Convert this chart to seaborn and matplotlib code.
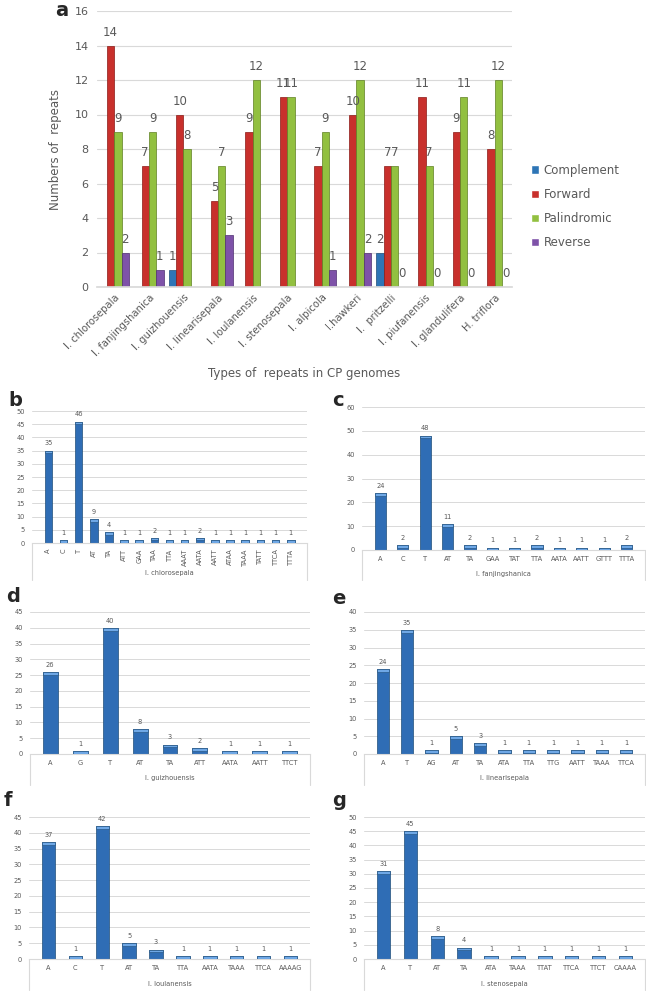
import numpy as np
import pandas as pd
import matplotlib
matplotlib.use("Agg")
import matplotlib.pyplot as plt
import seaborn as sns

# ---------------- data ----------------
species = ["I. chlorosepala", "I. fanjingshanica", "I. guizhouensis", "I. linearisepala",
           "I. loulanensis", "I. stenosepala", "I. alpicola", "I.hawkeri", "I.  pritzelli",
           "I. piufanensis", "I. glandulifera", "H. triflora"]
repeat_types = ["Complement", "Forward", "Palindromic", "Reverse"]
nan = np.nan
complement = [nan, nan, 1, nan, nan, nan, nan, nan, 2, nan, nan, nan]
forward = [14, 7, 10, 5, 9, 11, 7, 10, 7, 11, 9, 8]
palindromic = [9, 9, 8, 7, 12, 11, 9, 12, 7, 7, 11, 12]
reverse = [2, 1, nan, 3, nan, nan, 1, 2, 0, 0, 0, 0]

b_labels = ["A", "C", "T", "AT", "TA", "ATT", "GAA", "TAA", "TTA", "AAAT", "AATA", "AATT",
            "ATAA", "TAAA", "TATT", "TTCA", "TTTA"]
b_values = [35, 1, 46, 9, 4, 1, 1, 2, 1, 1, 2, 1, 1, 1, 1, 1, 1]
c_labels = ["A", "C", "T", "AT", "TA", "GAA", "TAT", "TTA", "AATA", "AATT", "GTTT", "TTTA"]
c_values = [24, 2, 48, 11, 2, 1, 1, 2, 1, 1, 1, 2]
d_labels = ["A", "G", "T", "AT", "TA", "ATT", "AATA", "AATT", "TTCT"]
d_values = [26, 1, 40, 8, 3, 2, 1, 1, 1]
e_labels = ["A", "T", "AG", "AT", "TA", "ATA", "TTA", "TTG", "AATT", "TAAA", "TTCA"]
e_values = [24, 35, 1, 5, 3, 1, 1, 1, 1, 1, 1]
f_labels = ["A", "C", "T", "AT", "TA", "TTA", "AATA", "TAAA", "TTCA", "AAAAG"]
f_values = [37, 1, 42, 5, 3, 1, 1, 1, 1, 1]
g_labels = ["A", "T", "AT", "TA", "ATA", "TAAA", "TTAT", "TTCA", "TTCT", "CAAAA"]
g_values = [31, 45, 8, 4, 1, 1, 1, 1, 1, 1]

# ---------------- style ----------------
sns.set_theme(style="white")
plt.rcParams["font.family"] = ["DejaVu Sans"]
GRAY = "#595959"
GRID = "#D9D9D9"
W, H = 646, 991
fig = plt.figure(figsize=(W / 100, H / 100), dpi=100)


def rect(l, t, r, b):
    return [l / W, 1 - b / H, (r - l) / W, (b - t) / H]


# ---------------- panel a ----------------
df = pd.DataFrame({
    "species": np.repeat(species, len(repeat_types)),
    "type": repeat_types * len(species),
    "value": np.column_stack([complement, forward, palindromic, reverse]).ravel(),
})
palette = {"Complement": "#2E75B6", "Forward": "#C8302C",
           "Palindromic": "#92C040", "Reverse": "#7E52A8"}
edges = {"Complement": "#1F4E79", "Forward": "#8B1A16",
         "Palindromic": "#5E7F22", "Reverse": "#4F2F70"}

axa = fig.add_axes(rect(97, 11, 512, 287))
sns.barplot(data=df, x="species", y="value", hue="type", hue_order=repeat_types,
            order=species, palette=palette, width=0.85, ax=axa, legend=True,
            saturation=1)
for cont, t in zip(axa.containers, repeat_types):
    for bar in cont:
        bar.set_edgecolor(edges[t])
        bar.set_linewidth(0.5)
    labs = [("" if np.isnan(b.get_height()) else f"{int(round(b.get_height()))}") for b in cont]
    axa.bar_label(cont, labels=labs, padding=5, fontsize=8.5, color=GRAY)
axa.set_ylim(0, 16)
axa.set_yticks(range(0, 17, 2))
axa.yaxis.grid(True, color=GRID, linewidth=0.8)
axa.set_axisbelow(True)
for s in ["top", "right", "left"]:
    axa.spines[s].set_visible(False)
axa.spines["bottom"].set_color(GRID)
axa.tick_params(axis="both", length=0, colors=GRAY)
axa.tick_params(axis="y", pad=6, labelsize=8)
axa.tick_params(axis="x", pad=4, labelsize=7.2)
plt.setp(axa.get_xticklabels(), rotation=45, ha="right", rotation_mode="anchor")
axa.set_xlabel("")
axa.set_ylabel("Numbers of  repeats", color=GRAY, fontsize=8.5)
axa.yaxis.set_label_coords(-0.085, 0.5)
handles, labels = axa.get_legend_handles_labels()
axa.get_legend().remove()
fig.legend(handles, labels, loc="upper left", bbox_to_anchor=(520 / W, 1 - 153 / H),
           frameon=False, fontsize=8.5, labelcolor=GRAY, handlelength=0.7,
           handleheight=0.7, handletextpad=0.4, labelspacing=0.95)
fig.text(304 / W, 1 - 373 / H, "Types of  repeats in CP genomes", ha="center",
         va="center", fontsize=8.5, color=GRAY)
fig.text(55 / W, 1 - 11 / H, "a", fontsize=14, fontweight="bold", ha="left", va="center")

# ---------------- panels b-g ----------------
panels = [
    ("b", b_labels, b_values, "I. chlorosepala", (32, 411, 307, 543), 50, 5, 580, 573, 90, (8, 400)),
    ("c", c_labels, c_values, "I. fanjingshanica", (362, 407, 645, 550), 60, 10, 580, 574, 0, (332, 400)),
    ("d", d_labels, d_values, "I. guizhouensis", (30, 612, 310, 754), 45, 5, 785, 778, 0, (6, 597)),
    ("e", e_labels, e_values, "I. linearisepala", (364, 612, 645, 754), 40, 5, 785, 778, 0, (332, 598)),
    ("f", f_labels, f_values, "I. loulanensis", (29, 817, 310, 959), 45, 5, 990, 984, 0, (4, 800)),
    ("g", g_labels, g_values, "I. stenosepala", (364, 817, 645, 959), 50, 5, 990, 984, 0, (332, 800)),
]
for letter, labs, vals, name, r, ymax, step, boxb, namey, rot, lpos in panels:
    ax = fig.add_axes(rect(*r))
    sub = pd.DataFrame({"motif": labs, "count": vals})
    sns.barplot(data=sub, x="motif", y="count", order=labs, color="#2F6DB5",
                width=0.5, ax=ax, saturation=1)
    cont = ax.containers[0]
    for bar in cont:
        bar.set_edgecolor("#1F4E79")
        bar.set_linewidth(0.5)
    # lighter top cap (3D look of the original)
    cap = ymax * 0.02
    ax.bar(range(len(vals)), [min(cap, v) for v in vals],
           bottom=[max(v - cap, 0) for v in vals], width=0.5,
           color="#6FA8E6", edgecolor="#1F4E79", linewidth=0.4, zorder=3)
    ax.bar_label(cont, labels=[str(v) for v in vals], padding=3, fontsize=4.8, color=GRAY)
    ax.set_ylim(0, ymax)
    ax.set_yticks(range(0, ymax + 1, step))
    ax.yaxis.grid(True, color=GRID, linewidth=0.7)
    ax.set_axisbelow(True)
    for s in ["top", "right", "left"]:
        ax.spines[s].set_visible(False)
    ax.spines["bottom"].set_color(GRID)
    ax.spines["bottom"].set_linewidth(0.8)
    ax.tick_params(axis="both", length=0, colors=GRAY, labelsize=4.8)
    ax.tick_params(axis="y", pad=5)
    ax.tick_params(axis="x", pad=4)
    if rot:
        plt.setp(ax.get_xticklabels(), rotation=90, va="top")
    ax.set_xlabel("")
    ax.set_ylabel("")
    # category box lines below the axis
    l, t, rr, b = r
    for xx in (l, rr):
        fig.add_artist(plt.Line2D([xx / W, xx / W], [1 - b / H, 1 - boxb / H],
                                  transform=fig.transFigure, color=GRID, linewidth=0.8))
    fig.text((l + rr) / 2 / W, 1 - namey / H, name, ha="center", va="center",
             fontsize=4.8, color=GRAY)
    fig.text(lpos[0] / W, 1 - lpos[1] / H, letter, fontsize=14, fontweight="bold",
             ha="left", va="center")

fig.savefig("out.png", dpi=100)
